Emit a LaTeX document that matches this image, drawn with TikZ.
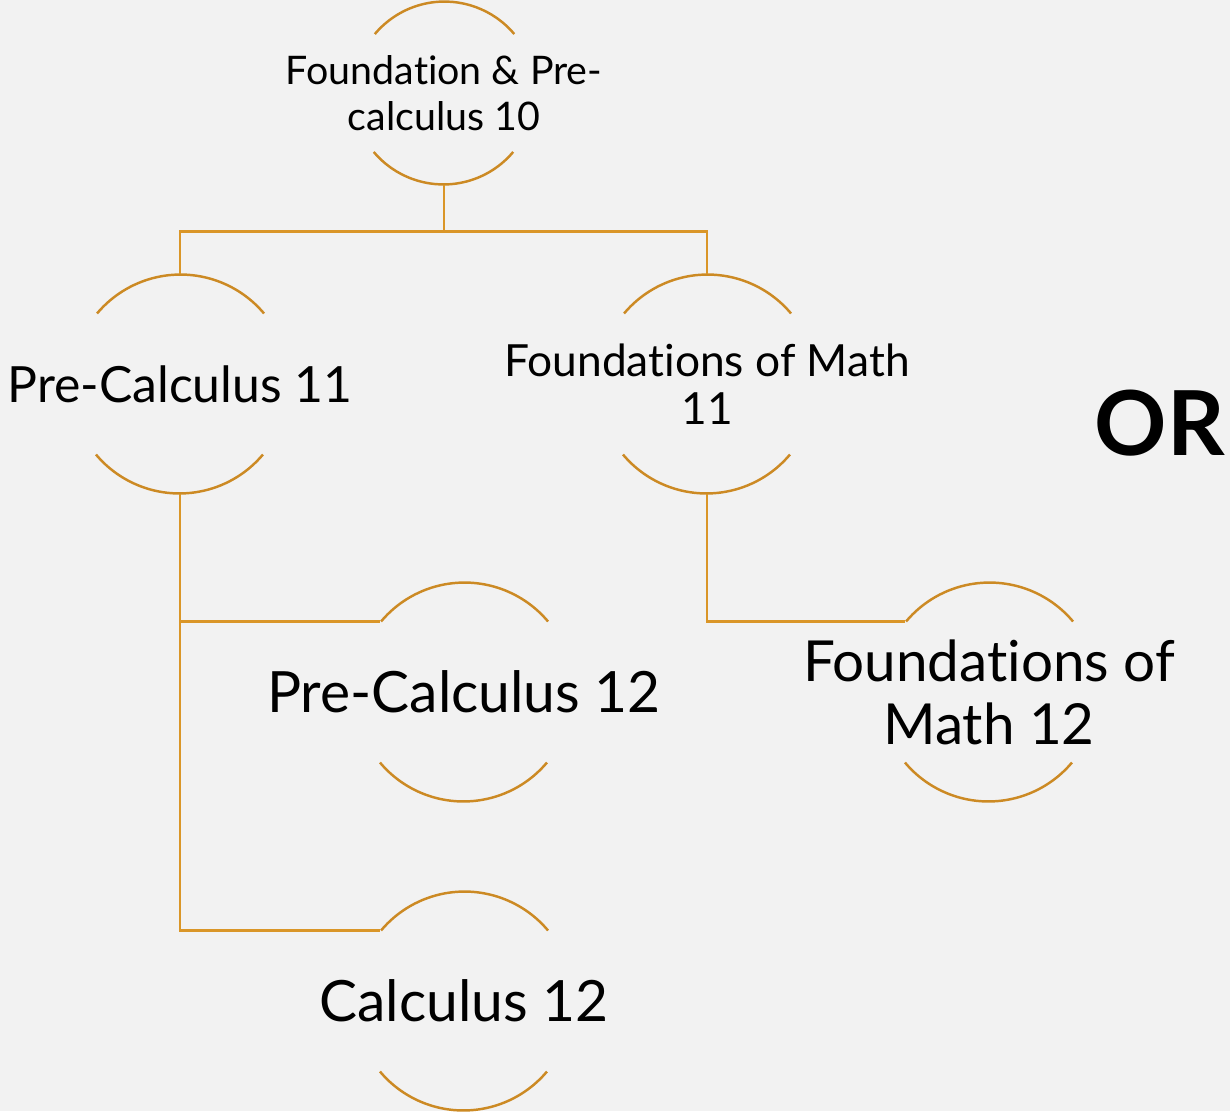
\documentclass[tikz,border=0pt]{standalone}
\usepackage{fontspec}
\setmainfont{Lato}[RawFeature={-liga;-clig;-dlig;-calt}]
\usetikzlibrary{calc}
\definecolor{ArcGold}{RGB}{204,138,36}
\definecolor{LinkGold}{RGB}{218,150,40}
\definecolor{SlideGray}{RGB}{242,242,242}

\begin{document}
\begin{tikzpicture}[
      ring/.style={circle, inner sep=0pt, minimum size=#1},
      arcline/.style={draw=ArcGold, line width=0.7pt},
      link/.style={draw=LinkGold, line width=0.7pt},
      course/.style={align=center, inner sep=0pt, text=black}
    ]
    % slide background
    \useasboundingbox (0,0) rectangle (12.3,-11.11);
    \fill[SlideGray] (0,0) rectangle (12.3,-11.11);

    % Grade 10 start
    \node[ring=1.82cm] (top) at (4.44, -0.93) {};
    \node[course, font=\fontsize{11.2}{13.1}\selectfont] (top-t) at (top)
          {Foundation \& Pre-\\calculus 10};

    % Grade 11 options
    \node[ring=2.18cm] (pc11) at (1.80, -3.84) {};
    \node[course, font=\fontsize{14.2}{17}\selectfont] (pc11-t) at (pc11)
          {Pre-Calculus 11};
    \node[ring=2.18cm] (fm11) at (7.07, -3.84) {};
    \node[course, font=\fontsize{12.6}{13.7}\selectfont] (fm11-t) at (fm11)
          {Foundations of Math\\11};

    % Grade 12 options
    \node[ring=2.18cm] (pc12) at (4.64, -6.92) {};
    \node[course, font=\fontsize{16.2}{19}\selectfont] (pc12-t) at (pc12)
          {Pre-Calculus 12};
    \node[ring=2.18cm] (fm12) at (9.89, -6.92) {};
    \node[course, font=\fontsize{16.1}{17.9}\selectfont] (fm12-t) at (fm12)
          {Foundations of\\Math 12};
    \node[ring=2.18cm] (calc12) at (4.64, -10.01) {};
    \node[course, font=\fontsize{16.2}{19}\selectfont] (calc12-t) at (calc12)
          {Calculus 12};

    \node[course, font=\fontsize{25.5}{30}\selectfont\bfseries] (or) at (11.60, -4.23) {OR};

    % open arcs above and below each course
    \foreach \n/\r in {top/0.91, pc11/1.09, fm11/1.09, pc12/1.09, fm12/1.09, calc12/1.09}{
      \draw[arcline] (\n.40) arc[start angle=40, end angle=140, radius=\r];
      \draw[arcline] (\n.220) arc[start angle=220, end angle=320, radius=\r];
    }

    % pathways
    \coordinate (fork) at ($(top.south)+(0,-0.47)$);
    \draw[link] (top.south) -- (fork) -| (pc11.north);
    \draw[link] (fork) -| (fm11.north);
    \draw[link] (pc11.south) |- (pc12.140);
    \draw[link] (pc11.south) |- (calc12.140);
    \draw[link] (fm11.south) |- (fm12.140);
  \end{tikzpicture}
\end{document}
